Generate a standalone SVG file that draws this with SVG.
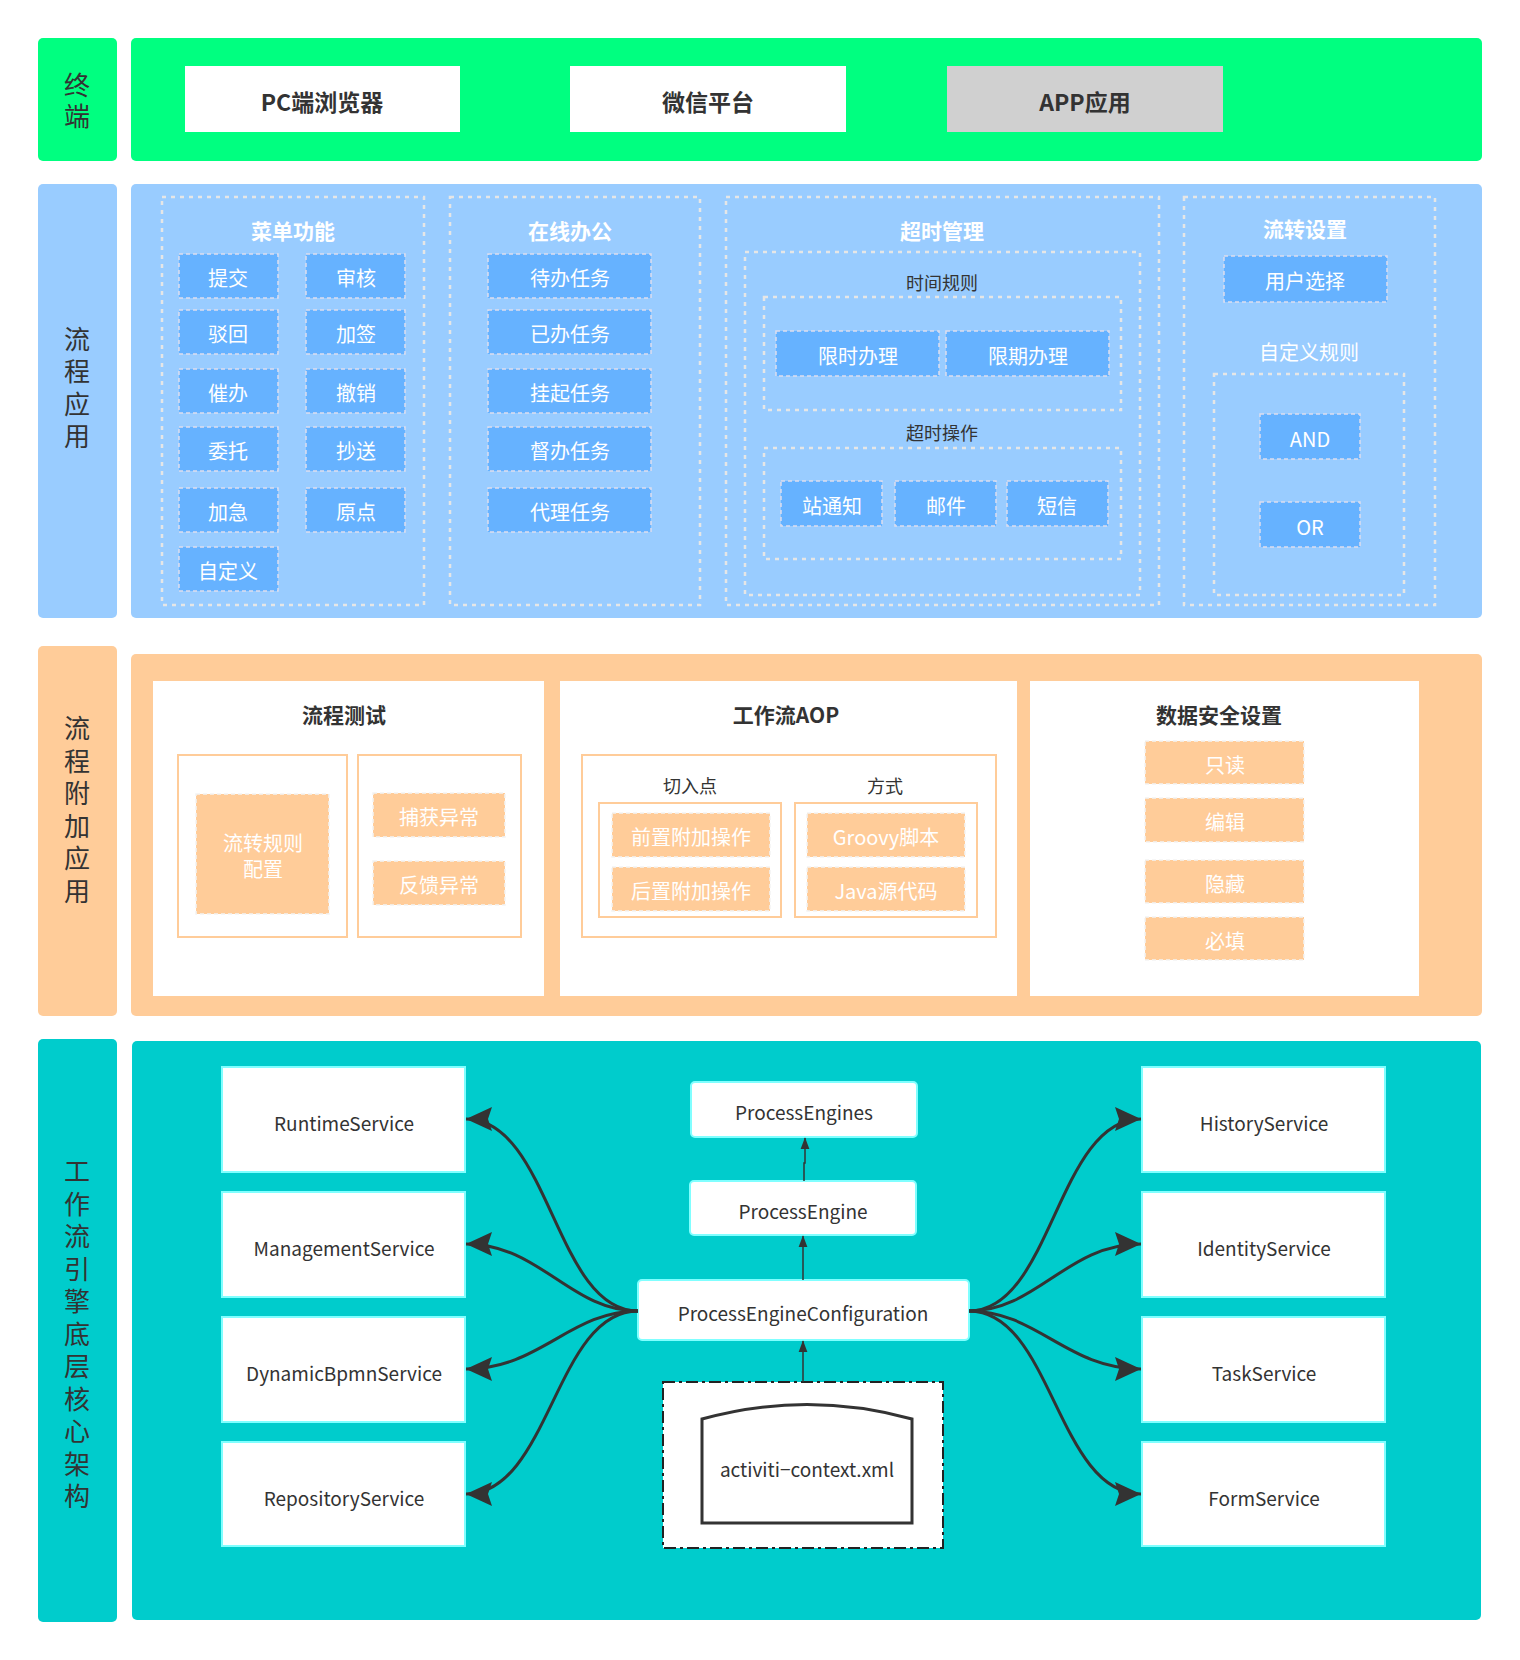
<svg xmlns="http://www.w3.org/2000/svg" width="1520" height="1660" viewBox="0 0 1520 1660">
<defs>
<style>
text{font-family:"Noto Sans CJK SC","Noto Sans",sans-serif;text-anchor:middle;dominant-baseline:central;}
.vl{font-size:26px;fill:#333;writing-mode:vertical-rl;letter-spacing:6.5px;}
.term{fill:#fff;}
.termt{font-size:23px;font-weight:bold;fill:#333;}
.cont{fill:none;stroke:#e6e6e6;stroke-width:2.5;stroke-dasharray:4 5;}
.btn{fill:#66b2ff;stroke:#dde;stroke-width:1.5;stroke-dasharray:4 3;}
.btnt{font-size:20px;fill:#fff;}
.wt{font-size:21px;font-weight:bold;fill:#fff;}
.dt{font-size:18px;fill:#333;}
.wt2{font-size:20px;fill:#fff;}
.panel{fill:#fff;}
.obox{fill:#fff;stroke:#ffcc99;stroke-width:2;}
.obtn{fill:#ffcc99;stroke:#f3f3f3;stroke-width:1.5;stroke-dasharray:4 3;}
.obtnt{font-size:20px;fill:#fff;}
.ot{font-size:21px;font-weight:bold;fill:#333;}
.svc{fill:#fff;stroke:#80ffff;stroke-width:2;}
.svct{font-size:19px;fill:#333;}
.pe{fill:#fff;stroke:#80ffff;stroke-width:2;}
.conn{fill:none;stroke:#333;stroke-width:3;}
.vconn{fill:none;stroke:#333;stroke-width:1.5;}
</style>
<marker id="ah" markerUnits="userSpaceOnUse" markerWidth="28" markerHeight="24" refX="26" refY="12" orient="auto">
<path d="M0,0 L26,12 L0,24 L4,12 Z" fill="#333"/>
</marker>
<marker id="ahs" markerUnits="userSpaceOnUse" markerWidth="12" markerHeight="16" refX="15" refY="6" orient="auto" viewBox="0 0 16 12">
<path d="M0,0 L16,6 L0,12 Z" fill="#333"/>
</marker>
</defs>
<rect width="1520" height="1660" fill="#fff"/>

<!-- Terminal layer -->
<g id="layer-terminal">
<rect x="38" y="38" width="79" height="123" rx="5" fill="#00ff80"/>
<text class="vl" x="77" y="103" style="letter-spacing:5px">终端</text>
<rect x="131" y="38" width="1351" height="123" rx="5" fill="#00ff80"/>
</g>
<g id="node-pc"><rect class="term" x="185" y="66" width="275" height="66"/><text class="termt" x="322" y="101">PC端浏览器</text></g>
<g id="node-wechat"><rect class="term" x="570" y="66" width="276" height="66"/><text class="termt" x="708" y="101">微信平台</text></g>
<g id="node-app"><rect x="947" y="66" width="276" height="66" fill="#d0d0d0"/><text class="termt" x="1085" y="101">APP应用</text></g>

<!-- Process application layer -->
<g id="layer-process-app">
<rect x="38" y="184" width="79" height="434" rx="5" fill="#99ccff"/>
<text class="vl" x="77" y="391">流程应用</text>
<rect x="131" y="184" width="1351" height="434" rx="5" fill="#99ccff"/>
</g>
<g id="group-menu">
<rect class="cont" x="162" y="197" width="262" height="408"/>
<text class="wt" x="293" y="230">菜单功能</text>
<rect class="btn" x="179" y="254" width="99" height="44"/><text class="btnt" x="228" y="277">提交</text>
<rect class="btn" x="306" y="254" width="99" height="44"/><text class="btnt" x="356" y="277">审核</text>
<rect class="btn" x="179" y="310" width="99" height="44"/><text class="btnt" x="228" y="333">驳回</text>
<rect class="btn" x="306" y="310" width="99" height="44"/><text class="btnt" x="356" y="333">加签</text>
<rect class="btn" x="179" y="369" width="99" height="44"/><text class="btnt" x="228" y="392">催办</text>
<rect class="btn" x="306" y="369" width="99" height="44"/><text class="btnt" x="356" y="392">撤销</text>
<rect class="btn" x="179" y="427" width="99" height="44"/><text class="btnt" x="228" y="450">委托</text>
<rect class="btn" x="306" y="427" width="99" height="44"/><text class="btnt" x="356" y="450">抄送</text>
<rect class="btn" x="179" y="488" width="99" height="44"/><text class="btnt" x="228" y="511">加急</text>
<rect class="btn" x="306" y="488" width="99" height="44"/><text class="btnt" x="356" y="511">原点</text>
<rect class="btn" x="179" y="547" width="99" height="44"/><text class="btnt" x="228" y="570">自定义</text>
</g>
<g id="group-online">
<rect class="cont" x="450" y="197" width="250" height="408"/>
<text class="wt" x="570" y="230">在线办公</text>
<rect class="btn" x="488" y="254" width="163" height="44"/><text class="btnt" x="570" y="277">待办任务</text>
<rect class="btn" x="488" y="310" width="163" height="44"/><text class="btnt" x="570" y="333">已办任务</text>
<rect class="btn" x="488" y="369" width="163" height="44"/><text class="btnt" x="570" y="392">挂起任务</text>
<rect class="btn" x="488" y="427" width="163" height="44"/><text class="btnt" x="570" y="450">督办任务</text>
<rect class="btn" x="488" y="488" width="163" height="44"/><text class="btnt" x="570" y="511">代理任务</text>
</g>
<g id="group-timeout">
<rect class="cont" x="726" y="197" width="433" height="408"/>
<text class="wt" x="942" y="230">超时管理</text>
<rect class="cont" x="745" y="252" width="395" height="343"/>
<text class="dt" x="942" y="282">时间规则</text>
<rect class="cont" x="764" y="297" width="357" height="113" stroke-width="1.5"/>
<rect class="btn" x="776" y="331" width="163" height="45"/><text class="btnt" x="858" y="355">限时办理</text>
<rect class="btn" x="946" y="331" width="163" height="45"/><text class="btnt" x="1028" y="355">限期办理</text>
<text class="dt" x="942" y="432">超时操作</text>
<rect class="cont" x="764" y="448" width="357" height="111" stroke-width="1.5"/>
<rect class="btn" x="781" y="481" width="101" height="45"/><text class="btnt" x="832" y="505">站通知</text>
<rect class="btn" x="895" y="481" width="101" height="45"/><text class="btnt" x="946" y="505">邮件</text>
<rect class="btn" x="1007" y="481" width="101" height="45"/><text class="btnt" x="1057" y="505">短信</text>
</g>
<g id="group-flow">
<rect class="cont" x="1184" y="197" width="251" height="408"/>
<text class="wt" x="1305" y="228">流转设置</text>
<rect class="btn" x="1224" y="256" width="163" height="46"/><text class="btnt" x="1305" y="280">用户选择</text>
<text class="wt2" x="1309" y="351">自定义规则</text>
<rect class="cont" x="1214" y="374" width="190" height="221" stroke-width="1.5"/>
<rect class="btn" x="1260" y="414" width="100" height="45"/><text class="btnt" x="1310" y="438">AND</text>
<rect class="btn" x="1260" y="502" width="100" height="45"/><text class="btnt" x="1310" y="526">OR</text>
</g>

<!-- Process additional layer -->
<g id="layer-process-extra">
<rect x="38" y="646" width="79" height="370" rx="5" fill="#ffcc99"/>
<text class="vl" x="77" y="813">流程附加应用</text>
<rect x="131" y="654" width="1351" height="362" rx="5" fill="#ffcc99"/>
</g>
<g id="group-test">
<rect class="panel" x="153" y="681" width="391" height="315"/>
<text class="ot" x="344" y="714">流程测试</text>
<rect class="obox" x="178" y="755" width="169" height="182"/>
<rect class="obtn" x="196" y="794" width="133" height="120"/>
<text class="obtnt" x="263" y="842">流转规则</text>
<text class="obtnt" x="263" y="868">配置</text>
<rect class="obox" x="358" y="755" width="163" height="182"/>
<rect class="obtn" x="373" y="793" width="132" height="44"/><text class="obtnt" x="439" y="816">捕获异常</text>
<rect class="obtn" x="373" y="861" width="132" height="44"/><text class="obtnt" x="439" y="884">反馈异常</text>
</g>
<g id="group-aop">
<rect class="panel" x="560" y="681" width="457" height="315"/>
<text class="ot" x="786" y="714">工作流AOP</text>
<rect class="obox" x="582" y="755" width="414" height="182"/>
<text class="dt" x="690" y="785">切入点</text>
<text class="dt" x="885" y="785">方式</text>
<rect class="obox" x="599" y="803" width="182" height="114"/>
<rect class="obtn" x="612" y="813" width="158" height="44"/><text class="obtnt" x="691" y="836">前置附加操作</text>
<rect class="obtn" x="612" y="867" width="158" height="44"/><text class="obtnt" x="691" y="890">后置附加操作</text>
<rect class="obox" x="795" y="803" width="182" height="114"/>
<rect class="obtn" x="807" y="813" width="158" height="44"/><text class="obtnt" x="886" y="836">Groovy脚本</text>
<rect class="obtn" x="807" y="867" width="158" height="44"/><text class="obtnt" x="886" y="890">Java源代码</text>
</g>
<g id="group-security">
<rect class="panel" x="1030" y="681" width="389" height="315"/>
<text class="ot" x="1219" y="714">数据安全设置</text>
<rect class="obtn" x="1145" y="741" width="159" height="43"/><text class="obtnt" x="1225" y="764">只读</text>
<rect class="obtn" x="1145" y="798" width="159" height="44"/><text class="obtnt" x="1225" y="821">编辑</text>
<rect class="obtn" x="1145" y="860" width="159" height="43"/><text class="obtnt" x="1225" y="883">隐藏</text>
<rect class="obtn" x="1145" y="917" width="159" height="43"/><text class="obtnt" x="1225" y="940">必填</text>
</g>

<!-- Engine layer -->
<g id="layer-engine">
<rect x="38" y="1039" width="79" height="583" rx="5" fill="#00cccc"/>
<text class="vl" x="77" y="1337">工作流引擎底层核心架构</text>
<rect x="132" y="1041" width="1349" height="579" rx="5" fill="#00cccc"/>
</g>
<g id="node-runtime"><rect class="svc" x="222" y="1067" width="243" height="105"/><text class="svct" x="344" y="1122">RuntimeService</text></g>
<g id="node-management"><rect class="svc" x="222" y="1192" width="243" height="105"/><text class="svct" x="344" y="1247">ManagementService</text></g>
<g id="node-dynamic"><rect class="svc" x="222" y="1317" width="243" height="105"/><text class="svct" x="344" y="1372">DynamicBpmnService</text></g>
<g id="node-repository"><rect class="svc" x="222" y="1442" width="243" height="104"/><text class="svct" x="344" y="1497">RepositoryService</text></g>
<g id="node-history"><rect class="svc" x="1142" y="1067" width="243" height="105"/><text class="svct" x="1264" y="1122">HistoryService</text></g>
<g id="node-identity"><rect class="svc" x="1142" y="1192" width="243" height="105"/><text class="svct" x="1264" y="1247">IdentityService</text></g>
<g id="node-task"><rect class="svc" x="1142" y="1317" width="243" height="105"/><text class="svct" x="1264" y="1372">TaskService</text></g>
<g id="node-form"><rect class="svc" x="1142" y="1442" width="243" height="104"/><text class="svct" x="1264" y="1497">FormService</text></g>
<g id="node-engines"><rect class="pe" x="691" y="1082" width="226" height="55" rx="4"/><text class="svct" x="804" y="1111">ProcessEngines</text></g>
<g id="node-engine"><rect class="pe" x="690" y="1181" width="226" height="54" rx="4"/><text class="svct" x="803" y="1210">ProcessEngine</text></g>
<g id="node-config"><rect class="pe" x="638" y="1280" width="331" height="60" rx="4"/><text class="svct" x="803" y="1312">ProcessEngineConfiguration</text></g>
<g id="node-context">
<rect x="663" y="1382" width="280" height="166" fill="#fff" stroke="#222" stroke-width="2" stroke-dasharray="12 4 3 4"/>
<path d="M702,1523 L702,1419 Q807,1390 912,1419 L912,1523 Z" fill="#fff" stroke="#333" stroke-width="3"/>
<text class="svct" x="807" y="1468">activiti−context.xml</text>
</g>

<g id="connectors">
<path class="conn" marker-end="url(#ah)" d="M638,1311 C555,1311 550,1119 466,1119"/>
<path class="conn" marker-end="url(#ah)" d="M638,1311 C570,1311 540,1244 466,1244"/>
<path class="conn" marker-end="url(#ah)" d="M638,1311 C570,1311 540,1369 466,1369"/>
<path class="conn" marker-end="url(#ah)" d="M638,1311 C555,1311 550,1494 466,1494"/>
<path class="conn" marker-end="url(#ah)" d="M969,1311 C1052,1311 1057,1119 1141,1119"/>
<path class="conn" marker-end="url(#ah)" d="M969,1311 C1037,1311 1067,1244 1141,1244"/>
<path class="conn" marker-end="url(#ah)" d="M969,1311 C1037,1311 1067,1369 1141,1369"/>
<path class="conn" marker-end="url(#ah)" d="M969,1311 C1052,1311 1057,1494 1141,1494"/>
<path class="vconn" marker-end="url(#ahs)" d="M804,1181 L804,1163 L805,1163 L805,1138"/>
<path class="vconn" marker-end="url(#ahs)" d="M803,1280 L803,1236"/>
<path class="vconn" marker-end="url(#ahs)" d="M803,1382 L803,1341"/>
</g>
</svg>
